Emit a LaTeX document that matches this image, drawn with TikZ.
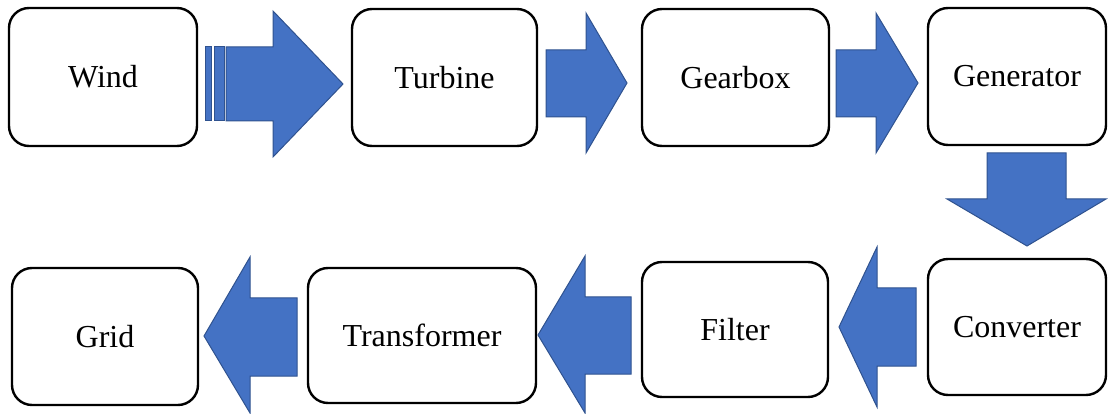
\documentclass[tikz,border=0pt]{standalone}
\usepackage{fontspec}
\setmainfont{Liberation Serif}
\definecolor{arrowblue}{HTML}{4472C4}
\definecolor{arrowedge}{HTML}{2F528F}
\begin{document}
\begin{tikzpicture}[x=1pt,y=-1pt,
  stage/.style={draw=black, line width=2.4pt, rounded corners=20pt, fill=white,
    inner sep=0pt, font=\fontsize{32}{38}\selectfont},
  blockarrow/.style={fill=arrowblue, draw=arrowedge, line width=1pt, line join=miter}]
\useasboundingbox (0,0) rectangle (1109,414);

% process stages
\node[stage, minimum width=188pt, minimum height=138pt] (wind)        at (103,77)    {Wind};
\node[stage, minimum width=185pt, minimum height=137pt] (turbine)     at (444.5,77.5) {Turbine};
\node[stage, minimum width=187pt, minimum height=137pt] (gearbox)     at (735.5,77.5) {Gearbox};
\node[stage, minimum width=178pt, minimum height=137pt] (generator)   at (1017,76.5)  {Generator};
\node[stage, minimum width=178pt, minimum height=136pt] (converter)   at (1017,327)   {Converter};
\node[stage, minimum width=186pt, minimum height=135pt] (filter)      at (735,329.5)  {Filter};
\node[stage, minimum width=228pt, minimum height=135pt] (transformer) at (422,335.5)  {Transformer};
\node[stage, minimum width=186pt, minimum height=137pt] (grid)        at (105,336.5)  {Grid};

% striped block arrow: wind -> turbine
\draw[blockarrow] (205,47) rectangle (211.5,121);
\draw[blockarrow] (214,47) rectangle (224,121);
\draw[blockarrow] (226,47) -- (273,47) -- (273,11) -- (343,84) -- (273,157) -- (273,121) -- (226,121) -- cycle;

% turbine -> gearbox
\draw[blockarrow] (546,50) -- (586,50) -- (586,13) -- (627,83) -- (586,153) -- (586,117) -- (546,117) -- cycle;

% gearbox -> generator
\draw[blockarrow] (836,50) -- (876,50) -- (876,13) -- (918,83) -- (876,153) -- (876,117) -- (836,117) -- cycle;

% generator -> converter
\draw[blockarrow] (987,153) -- (1066,153) -- (1066,199) -- (1106,199) -- (1027,246) -- (947,199) -- (987,199) -- cycle;

% converter -> filter
\draw[blockarrow] (916,288) -- (877,288) -- (877,247) -- (839,327) -- (877,407) -- (877,366) -- (916,366) -- cycle;

% filter -> transformer
\draw[blockarrow] (631,297) -- (585,297) -- (585,256) -- (538,335) -- (585,413) -- (585,374) -- (631,374) -- cycle;

% transformer -> grid
\draw[blockarrow] (297,298) -- (250,298) -- (250,257) -- (204,336) -- (250,413) -- (250,376) -- (297,376) -- cycle;
\end{tikzpicture}
\end{document}
